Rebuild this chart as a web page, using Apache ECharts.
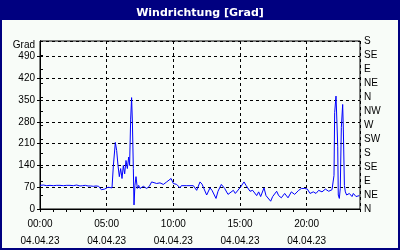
<!DOCTYPE html>
<html>
<head>
<meta charset="utf-8">
<script src="https://cdn.jsdelivr.net/npm/echarts@6/dist/echarts.min.js"></script>
<style>
html,body{margin:0;padding:0;background:#f8fcf8;}
#c{width:400px;height:250px;}
</style>
</head>
<body>
<div id="c"></div>
<script>
const titleText = 'Windrichtung [Grad]';
const yUnit = 'Grad';
const dateLabel = '04.04.23';
const compassLabels = ['N','NE','E','SE','S','SW','W','NW','N','NE','E','SE','S'];
// time in hours since 00:00
const hours = [0,0.25,0.5,0.75,1.0,1.25,1.5,1.75,2.0,2.25,2.5,2.75,3.0,3.1,3.2,3.4,3.6,3.8,4.0,4.2,4.4,4.5,4.6,4.75,4.85,5.0,5.1,5.25,5.4,5.5,5.65,5.75,5.85,5.95,6.05,6.15,6.25,6.35,6.45,6.55,6.65,6.72,6.8,6.87,6.93,7.0,7.05,7.12,7.2,7.3,7.4,7.5,7.75,8.0,8.2,8.37,8.5,8.75,9.0,9.25,9.5,9.83,10.0,10.25,10.5,10.6,11.0,11.5,11.75,11.88,12.0,12.15,12.5,12.75,12.9,13.2,13.35,13.6,13.85,14.1,14.25,14.5,14.65,15.05,15.3,15.45,15.75,15.95,16.25,16.4,16.55,16.8,16.95,17.3,17.45,17.75,17.9,18.1,18.35,18.6,18.85,19.1,19.4,19.6,19.85,20.05,20.25,20.5,20.7,20.9,21.15,21.4,21.65,21.9,22.0,22.05,22.1,22.2,22.27,22.33,22.37,22.45,22.52,22.6,22.7,22.75,22.83,22.9,23.0,23.1,23.2,23.4,23.5,23.7,23.95];
const direction = [76,77,75,76,75,76,76,75,76,76,75,77,74,68,75,76,74,74,73,74,73,70,62,60,64,67,70,65,68,138,214,188,140,104,130,98,140,113,156,130,167,140,289,358,279,130,13,76,104,66,76,66,73,66,73,87,90,82,84,79,87,98,82,79,68,75,75,75,60,55,87,80,45,68,60,34,57,79,66,47,43,60,50,71,87,76,57,60,43,55,40,68,43,25,40,57,43,36,50,36,55,47,60,66,66,64,50,55,50,60,55,64,57,62,66,108,310,363,279,200,45,34,66,262,336,257,76,55,45,40,50,40,50,40,43];

const chart = echarts.init(document.getElementById('c'), null, {renderer:'canvas'});
const font = 'Liberation Sans';
const pad2 = n => (n < 10 ? '0' : '') + n;
chart.setOption({
  animation: false,
  backgroundColor: '#f8fcf8',
  title: {
    text: titleText, left: 'center', top: 3,
    textStyle: {color:'#ffffff', fontSize: 11, fontWeight:'bold', fontFamily:'DejaVu Sans'}
  },
  graphic: [
    {type:'rect', z:-1, shape:{x:0,y:0,width:400,height:20}, style:{fill:'#000080'}},
    {type:'rect', z:100, shape:{x:1,y:1,width:398,height:248}, style:{fill:'none', stroke:'#000080', lineWidth:2}},
    {type:'text', x:35, y:45, style:{text:yUnit, align:'right', verticalAlign:'middle', fill:'#000', font:'10px "Liberation Sans"'}}
  ],
  grid: {left:40, right:40, top:41, bottom:39, show:true, borderColor:'#000', borderWidth:1, backgroundColor:'#f8fcf8'},
  xAxis: [
    {type:'value', min:0, max:24, interval:1, position:'bottom',
     axisLine:{show:true, lineStyle:{color:'#000'}}, axisTick:{show:true, length:3, lineStyle:{color:'#000'}},
     axisLabel:{show:false}, splitLine:{show:false}},
    {type:'value', min:0, max:24, interval:5, position:'bottom',
     axisLine:{show:false}, axisTick:{show:false},
     axisLabel:{show:true, showMaxLabel:false, margin:7, color:'#000', fontFamily:font, fontSize:10, lineHeight:17,
       formatter: v => pad2(v) + ':00\n' + dateLabel},
     splitLine:{show:true, lineStyle:{color:'#000', type:[3,3], width:1}}}
  ],
  yAxis: [
    {type:'value', min:0, max:540, interval:70, position:'left',
     axisLine:{show:true, lineStyle:{color:'#000'}}, axisTick:{show:true, length:3, lineStyle:{color:'#000'}},
     axisLabel:{showMaxLabel:false, color:'#000', fontFamily:font, fontSize:10, margin:5},
     splitLine:{show:true, lineStyle:{color:'#000', type:[3,3], width:1}}},
    {type:'value', min:0, max:540, interval:45, position:'right',
     axisLine:{show:true, lineStyle:{color:'#000'}}, axisTick:{show:true, length:3, lineStyle:{color:'#000'}},
     axisLabel:{color:'#000', fontFamily:font, fontSize:10, margin:4,
       formatter: (v) => compassLabels[Math.round(v/45)] || ''},
     splitLine:{show:false}}
  ],
  series: [{
    type:'line', xAxisIndex:0, yAxisIndex:0, showSymbol:false, symbol:'none',
    lineStyle:{color:'#0000ff', width:1}, itemStyle:{color:'#0000ff'},
    data: hours.map((h,i) => [h, direction[i]])
  }]
});
</script>
</body>
</html>
